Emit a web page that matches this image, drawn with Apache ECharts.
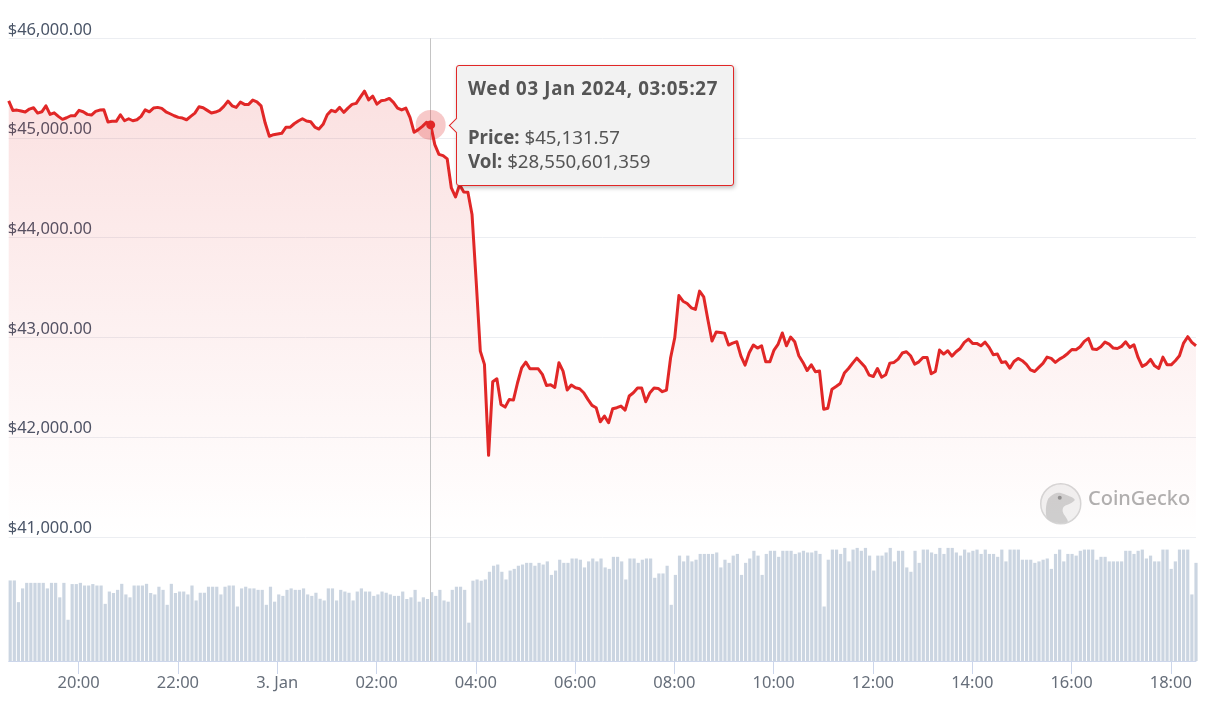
<!DOCTYPE html>
<html>
<head>
<meta charset="utf-8">
<title>BTC price</title>
<script src="https://cdn.jsdelivr.net/npm/echarts@6/dist/echarts.min.js"></script>
<style>
    html, body { margin: 0; padding: 0; background: #fff; }
    #main { width: 1205px; height: 711px; }
</style>
</head>
<body>
<div id="main"></div>
<script type="text/javascript">
    // 5 minute samples, first one is 2 Jan 2024 18:35:27
    var startTime = Date.UTC(2024, 0, 2, 18, 35, 27);
    var stepMs = 5 * 60 * 1000;

    var prices = [
        45373, 45277, 45280, 45270, 45260, 45290, 45303, 45250, 45263, 45323, 45237, 45253,
        45217, 45187, 45203, 45223, 45223, 45277, 45263, 45237, 45230, 45267, 45280, 45283,
        45160, 45167, 45167, 45233, 45173, 45193, 45173, 45183, 45217, 45283, 45263, 45300,
        45307, 45297, 45263, 45243, 45223, 45207, 45200, 45183, 45217, 45250, 45313, 45303,
        45277, 45250, 45260, 45277, 45317, 45370, 45323, 45307, 45360, 45337, 45337, 45380,
        45363, 45323, 45150, 45017, 45033, 45040, 45047, 45107, 45107, 45143, 45170, 45193,
        45170, 45163, 45110, 45090, 45137, 45233, 45277, 45263, 45307, 45257, 45300, 45337,
        45347, 45410, 45470, 45383, 45420, 45340, 45373, 45380, 45397, 45357, 45300,
        45281, 45300, 45207, 45057, 45084, 45117, 45157, 45131.57, 44933, 44836, 44823, 44790,
        44499, 44409, 44532, 44459, 44456, 44232, 43564, 42862, 42729, 41817, 42555, 42585,
        42328, 42301, 42378, 42371, 42545, 42695, 42752, 42685, 42685, 42685, 42629, 42518,
        42525, 42498, 42746, 42662, 42472, 42522, 42495, 42485, 42445, 42378, 42318, 42295,
        42154, 42211, 42144, 42285, 42295, 42311, 42271, 42412, 42445, 42492, 42492, 42355,
        42445, 42492, 42488, 42455, 42472, 42796, 42996, 43420, 43363, 43340, 43297, 43280,
        43464, 43407, 43180, 42963, 43053, 43049, 43043, 42923, 42943, 42956, 42812, 42722, 42846,
        42923, 42893, 42916, 42755, 42755, 42873, 42933, 43044, 42916, 43003, 42956, 42816,
        42749, 42668, 42725, 42655, 42662, 42280, 42290, 42481, 42508, 42538, 42642, 42688,
        42742, 42792, 42749, 42702, 42621, 42608, 42688, 42601, 42625, 42742, 42749, 42782,
        42843, 42856, 42816, 42732, 42755, 42799, 42799, 42635, 42658, 42873, 42833, 42866,
        42812, 42856, 42889, 42950, 42983, 42940, 42940, 42916, 42953, 42900, 42826, 42833,
        42749, 42755, 42692, 42759, 42789, 42766, 42729, 42675, 42658, 42699, 42739, 42802,
        42789, 42749, 42782, 42806, 42839, 42879, 42876, 42906, 42960, 42990, 42883, 42879,
        42906, 42953, 42933, 42893, 42889, 42910, 42956, 42900, 42926, 42799, 42709, 42732,
        42779, 42715, 42688, 42802, 42725, 42725, 42766, 42816, 42943, 43007, 42950, 42916
    ];

    // volume in billions of dollars
    var volumes = [
        33.4, 33.4, 24.4, 30.1, 32.4, 32.4, 32.4, 32.4, 32.4, 30.1, 32.4, 32.4,
        26.4, 32.4, 17.1, 31.9, 31.9, 32.4, 31.3, 31.3, 31.9, 31.3, 31.3, 23.7,
        28.8, 28.2, 29.5, 32.0, 27.6, 26.4, 31.3, 31.3, 31.3, 32.0, 28.2, 27.6,
        30.8, 29.5, 23.3, 32.0, 28.2, 28.8, 28.8, 27.6, 31.3, 25.1, 28.3, 28.3,
        30.8, 30.8, 30.8, 27.6, 30.8, 31.3, 31.3, 22.6, 30.1, 30.8, 30.1, 30.1,
        29.5, 29.5, 23.3, 30.8, 24.6, 27.6, 27.0, 29.5, 30.1, 29.5, 29.5, 30.1,
        27.6, 27.0, 28.3, 25.8, 25.1, 30.1, 30.1, 25.1, 29.5, 28.8, 28.3, 25.1,
        28.8, 30.1, 28.8, 28.8, 27.0, 27.6, 28.8, 28.3, 27.6, 27.0, 27.0,
        28.8, 25.7, 26.4, 29.5, 24.6, 26.4, 25.7, 28.55, 27.0, 29.5, 25.1, 24.6,
        29.5, 30.8, 30.8, 29.5, 15.9, 33.3, 33.8, 33.3, 33.8, 37.0, 39.5, 40.0,
        37.0, 33.8, 37.5, 38.2, 39.5, 40.0, 40.7, 40.7, 39.5, 40.7, 40.0, 41.3,
        35.7, 37.5, 42.0, 40.7, 40.7, 42.5, 42.5, 42.0, 38.8, 41.3, 42.5, 41.3,
        42.5, 38.8, 38.2, 43.2, 43.2, 41.3, 33.8, 42.5, 42.5, 40.7, 42.0, 42.5,
        42.5, 34.5, 36.3, 36.3, 39.5, 23.3, 35.7, 43.7, 41.3, 43.7, 41.3, 42.0,
        44.4, 44.4, 44.4, 44.4, 45.0, 38.8, 42.0, 40.7, 43.7, 44.4, 35.7, 40.7,
        42.5, 45.7, 43.7, 35.7, 44.4, 45.7, 45.7, 43.2, 45.7, 45.7, 45.7, 44.4, 45.0,
        45.7, 45.0, 45.0, 45.7, 44.4, 22.6, 42.0, 46.2, 46.2, 44.4, 46.9, 41.3,
        46.2, 46.9, 45.7, 46.9, 43.7, 37.5, 43.7, 43.7, 45.0, 46.9, 41.3, 45.7,
        45.7, 38.8, 37.0, 45.7, 40.7, 46.2, 46.2, 45.0, 44.4, 46.9, 44.4, 46.9,
        46.9, 45.0, 43.7, 46.2, 45.0, 45.7, 46.2, 44.4, 46.2, 44.4, 44.4, 43.2,
        46.2, 41.3, 46.2, 46.2, 46.2, 42.0, 42.0, 42.0, 40.7, 41.3, 42.0, 42.5,
        38.2, 44.4, 46.2, 41.3, 44.4, 44.4, 43.7, 45.7, 46.2, 46.2, 46.2, 42.0,
        43.2, 43.2, 41.3, 41.3, 41.3, 41.3, 45.7, 45.7, 44.4, 45.7, 46.2, 42.5,
        43.7, 41.3, 41.3, 46.2, 46.2, 38.2, 41.3, 46.2, 46.2, 46.2, 27.6, 40.7
    ];

    var priceTicks = [41000, 42000, 43000, 44000, 45000, 46000];
    var tickTimes = [
        Date.UTC(2024, 0, 2, 20), Date.UTC(2024, 0, 2, 22), Date.UTC(2024, 0, 3, 0), Date.UTC(2024, 0, 3, 2),
        Date.UTC(2024, 0, 3, 4), Date.UTC(2024, 0, 3, 6), Date.UTC(2024, 0, 3, 8), Date.UTC(2024, 0, 3, 10),
        Date.UTC(2024, 0, 3, 12), Date.UTC(2024, 0, 3, 14), Date.UTC(2024, 0, 3, 16), Date.UTC(2024, 0, 3, 18)
    ];
    var tickLabels = ['20:00', '22:00', '3. Jan', '02:00', '04:00', '06:00', '08:00', '10:00', '12:00', '14:00', '16:00', '18:00'];

    var hoverIndex = 102;
    var hoverTitle = 'Wed 03 Jan 2024, 03:05:27';
    var hoverPrice = '$45,131.57';
    var hoverVol = '$28,550,601,359';

    var red = '#e12727';
    var fontName = 'Noto Sans';
    // the volume columns start a little right of the price points
    var barShiftMs = 108000;

    var times = prices.map(function (p, i) { return startTime + i * stepMs; });
    var pricePairs = prices.map(function (p, i) { return [times[i], p]; });
    var volumePairs = volumes.map(function (v, i) { return [times[i], v]; });
    var lastTime = times[times.length - 1];

    function crossLine() {
        return {
            silent: true,
            symbol: 'none',
            animation: false,
            label: { show: false },
            lineStyle: { color: '#c4c4c4', width: 1, type: 'solid' },
            emphasis: { disabled: true },
            data: [{ xAxis: times[hoverIndex] }]
        };
    }

    var myChart = echarts.init(document.getElementById('main'));
    myChart.setOption({
        animation: false,
        backgroundColor: '#fff',
        textStyle: { fontFamily: fontName },
        grid: [
            { left: 8.7, right: 9, top: 38.3, height: 498.5 },
            { left: 8.7, right: 9, top: 536.8, bottom: 50 }
        ],
        xAxis: [
            {
                type: 'value', gridIndex: 0, min: startTime, max: lastTime, show: false
            },
            {
                type: 'value', gridIndex: 1, min: startTime, max: lastTime,
                axisLine: { show: true, onZero: false, lineStyle: { color: '#ccd6eb', width: 1 } },
                axisTick: { show: true, length: 13, customValues: tickTimes, lineStyle: { color: '#ccd6eb', width: 1 } },
                axisLabel: {
                    customValues: tickTimes,
                    color: '#666e7a',
                    fontSize: 16.5,
                    fontFamily: fontName,
                    margin: 14,
                    hideOverlap: false,
                    formatter: function (value) {
                        return tickLabels[tickTimes.indexOf(value)];
                    }
                },
                splitLine: { show: false }
            },
            {
                type: 'value', gridIndex: 1, min: startTime - barShiftMs, max: lastTime, show: false
            }
        ],
        yAxis: [
            {
                type: 'value', gridIndex: 0, min: 41000, max: 46000, interval: 1000,
                axisLine: { show: false },
                axisTick: { show: false },
                axisLabel: {
                    inside: true,
                    margin: -1,
                    color: '#4a5568',
                    fontSize: 16.5,
                    fontFamily: fontName,
                    verticalAlign: 'bottom',
                    customValues: priceTicks,
                    formatter: function (value) {
                        return '$' + value.toLocaleString('en-US') + '.00';
                    }
                },
                splitLine: { lineStyle: { color: '#eceef2', width: 1 } }
            },
            {
                type: 'value', gridIndex: 1, min: 0, max: 51.5, show: false
            }
        ],
        tooltip: {
            show: true,
            trigger: 'axis',
            triggerOn: 'none',
            axisPointer: { type: 'none' },
            alwaysShowContent: true,
            transitionDuration: 0,
            position: [456, 65],
            padding: 0,
            borderWidth: 0,
            backgroundColor: 'transparent',
            extraCssText: 'box-shadow:none;overflow:visible;',
            formatter: function () {
                return '<div style="position:relative;box-sizing:border-box;width:278px;height:121px;background:#f2f2f2;'
                    + 'border:1.5px solid ' + red + ';border-radius:3px;box-shadow:1px 2px 4px rgba(0,0,0,.25);'
                    + 'padding:10px 0 0 11px;font-family:' + fontName + ';font-size:18.7px;line-height:24.3px;color:#555;white-space:nowrap;">'
                    + '<div style="position:absolute;left:-6.5px;top:54px;width:10px;height:10px;background:#f2f2f2;'
                    + 'border-left:1.5px solid ' + red + ';border-bottom:1.5px solid ' + red + ';transform:rotate(45deg);"></div>'
                    + '<b style="letter-spacing:.65px">' + hoverTitle + '</b><br><br>'
                    + '<b>Price:</b> ' + hoverPrice + '<br>'
                    + '<b>Vol:</b> ' + hoverVol
                    + '</div>';
            }
        },
        series: [
            {
                name: 'Price',
                type: 'line',
                xAxisIndex: 0,
                yAxisIndex: 0,
                data: pricePairs,
                showSymbol: false,
                symbol: 'none',
                smooth: false,
                z: 3,
                lineStyle: { color: red, width: 3, join: 'round' },
                itemStyle: { color: red },
                emphasis: { disabled: true },
                areaStyle: {
                    origin: 'start',
                    color: new echarts.graphic.LinearGradient(0, 0, 0, 1, [
                        { offset: 0, color: 'rgba(225,39,39,0.2)' },
                        { offset: 1, color: 'rgba(225,39,39,0)' }
                    ])
                },
                markLine: crossLine(),
                markPoint: {
                    silent: true,
                    animation: false,
                    label: { show: false },
                    data: [
                        { coord: pricePairs[hoverIndex], symbol: 'circle', symbolSize: 30, itemStyle: { color: 'rgba(225,39,39,0.25)' } },
                        { coord: pricePairs[hoverIndex], symbol: 'circle', symbolSize: 9, itemStyle: { color: red } }
                    ]
                }
            },
            {
                name: 'Vol',
                type: 'bar',
                xAxisIndex: 2,
                yAxisIndex: 1,
                data: volumePairs,
                barWidth: 3.2,
                clip: false,
                itemStyle: { color: '#cbd5e1' },
                emphasis: { disabled: true }
            },
            {
                name: 'Cross',
                type: 'line',
                xAxisIndex: 1,
                yAxisIndex: 1,
                data: [],
                markLine: crossLine()
            }
        ],
        graphic: [
            {
                type: 'group',
                left: 1040,
                top: 483,
                silent: true,
                children: [
                    { type: 'circle', shape: { cx: 21, cy: 20, r: 20 }, style: { fill: '#f1f1f1', stroke: '#d6d6d6', lineWidth: 1.5 } },
                    {
                        type: 'polygon',
                        shape: {
                            points: [[7, 34], [8, 16], [18, 9], [31, 13], [35, 16], [32, 19], [24, 23], [23, 28], [28, 38], [16, 39]],
                            smooth: 0.3
                        },
                        style: { fill: '#cfcfcf' }
                    },
                    { type: 'circle', shape: { cx: 20, cy: 14, r: 2 }, style: { fill: '#8f8f8f' } }
                ]
            },
            {
                type: 'text',
                left: 1088,
                top: 489,
                silent: true,
                style: { text: 'CoinGecko', fill: '#b0b0b0', fontSize: 20, fontWeight: 500, fontFamily: fontName }
            }
        ]
    });
    var hoverPixel = myChart.convertToPixel({ gridIndex: 0 }, pricePairs[hoverIndex]);
    myChart.dispatchAction({ type: 'showTip', x: hoverPixel[0], y: hoverPixel[1] });
</script>
</body>
</html>
